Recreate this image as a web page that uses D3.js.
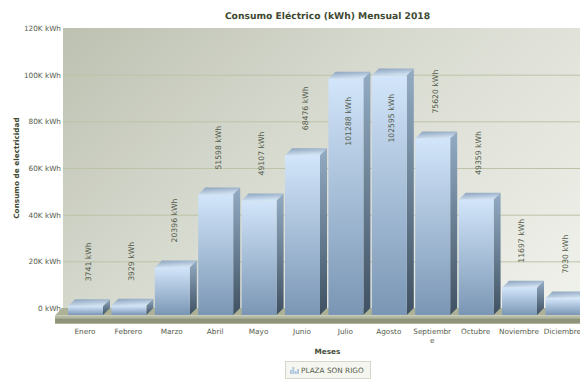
<!DOCTYPE html>
<html>
<head>
<meta charset="utf-8">
<script src="https://cdn.jsdelivr.net/npm/d3@7"></script>
<style>
html,body{margin:0;padding:0;background:#fff;overflow:hidden}
svg{display:block;text-rendering:geometricPrecision}
text{font-family:"DejaVu Sans",sans-serif}
</style>
</head>
<body>
<svg id="chart" width="580" height="379"></svg>
<script>
// Monthly electricity use for 2018
const meses = ["Enero","Febrero","Marzo","Abril","Mayo","Junio","Julio","Agosto","Septiembre","Octubre","Noviembre","Diciembre"];
const consumo = [3741,3929,20396,51598,49107,68476,101288,102595,75620,49359,11697,7030];
const yTicks = [0,20000,40000,60000,80000,100000,120000];
const titulo = "Consumo Eléctrico (kWh) Mensual 2018";
const tituloY = "Consumo de electricidad";
const tituloX = "Meses";
const serie = "PLAZA SON RIGO";

const W = 580, H = 379;
const plot = {left:63, top:28, right:580, zero:308};
const depth = 7;
const labelGap = 18;
const labelLen = 49;
const textColor = "#555c4c";
const titleColor = "#3f4a33";
const fontSize = 7.3;

const svg = d3.select("#chart");
const defs = svg.append("defs");

function linear(id, x1, y1, x2, y2, stops, userSpace){
  const g = defs.append("linearGradient").attr("id", id)
    .attr("x1",x1).attr("y1",y1).attr("x2",x2).attr("y2",y2);
  if (userSpace) g.attr("gradientUnits","userSpaceOnUse");
  stops.forEach(s => g.append("stop").attr("offset",s[0]).attr("stop-color",s[1]));
}
linear("bgPlot",plot.left,plot.top,439,443,[[0,"#bdc1b1"],[0.4,"#d6d9ce"],[0.65,"#e2e4db"],[1,"#f0f2ec"]],true);
linear("front",0,0,0,1,[[0,"#d2e5fa"],[1,"#7a96b4"]]);
linear("side",0,0,0,1,[[0,"#93acc4"],[1,"#3f5162"]]);
linear("cap",0,0,0.35,1,[[0,"#8aa2bb"],[1,"#cfe0f2"]]);
linear("floorFront",0,0,0,1,[[0,"#bcc1ab"],[0.3,"#b0b59f"],[0.45,"#8d9479"],[0.85,"#8f967b"],[1,"#c6c9b8"]]);

const x = d3.scaleBand().domain(meses).range([68, 580.4]).paddingInner(0.1935).paddingOuter(0);
const y = d3.scaleLinear().domain([0,120000]).range([plot.zero, plot.top]);
const base = y(0) + depth;

// Plot background
svg.append("rect")
  .attr("x",plot.left).attr("y",plot.top)
  .attr("width",plot.right-plot.left).attr("height",base-plot.top)
  .attr("fill","url(#bgPlot)");

// Value axis with full-width grid lines
const axis = svg.append("g").attr("transform",`translate(${plot.left},0)`)
  .call(d3.axisLeft(y).tickValues(yTicks)
    .tickFormat(d => d === 0 ? "0 kWh" : (d/1000)+"K kWh")
    .tickSize(-(plot.right-plot.left)).tickPadding(2));
axis.select(".domain").remove();
axis.selectAll("line").attr("stroke","#bcc3a6").attr("stroke-width",1);
axis.selectAll("text").attr("fill",textColor).attr("font-size",fontSize).attr("font-family","DejaVu Sans");
axis.selectAll(".tick").filter(d => d === 0).select("line").attr("x1",-2).attr("x2",0);
axis.selectAll(".tick").filter(d => d === 120000).select("line").attr("stroke","none");

// Floor slab under the bars
const floorL = 55, floorBack = 308, floorEdge = 315.5, floorBottom = 324;
svg.append("path")
  .attr("d",`M${floorL},${floorEdge}L${plot.left-1},${floorBack}L${W},${floorBack}L${W},${floorEdge}Z`)
  .attr("fill","#adb297");
svg.append("rect").attr("x",floorL).attr("y",floorEdge)
  .attr("width",W-floorL).attr("height",floorBottom-floorEdge)
  .attr("fill","url(#floorFront)");

// Bars as three faces: front, side, top
const bars = svg.append("g").selectAll("g").data(meses).join("g");
bars.append("path").attr("fill","url(#cap)")
  .attr("d",(m,i)=>{
    const l=x(m), r=l+x.bandwidth(), t=y(consumo[i])+depth;
    return `M${l},${t}L${l+depth},${t-depth}L${r+depth},${t-depth}L${r},${t}Z`;
  });
bars.append("path").attr("fill","url(#side)")
  .attr("d",(m,i)=>{
    const r=x(m)+x.bandwidth(), t=y(consumo[i])+depth;
    return `M${r},${t}L${r+depth},${t-depth}L${r+depth},${base-depth}L${r},${base}Z`;
  });
bars.append("rect").attr("fill","url(#front)")
  .attr("x",m=>x(m)).attr("width",x.bandwidth())
  .attr("y",(m,i)=>y(consumo[i])+depth)
  .attr("height",(m,i)=>base-y(consumo[i])-depth);

// Value labels read upward; the tallest bars carry theirs inside the front face
bars.append("text")
  .attr("fill",textColor).attr("font-size",fontSize+0.4)
  .attr("text-anchor","start")
  .attr("transform",(m,i)=>{
    const t=y(consumo[i]);
    const above=t-labelGap;
    const bottom = above-labelLen < plot.top+8 ? t+depth+67 : above;
    return `translate(${x(m)+x.bandwidth()/2+5},${bottom}) rotate(-90)`;
  })
  .text((m,i)=>consumo[i]+" kWh");

// Category labels, wrapped when wider than a band
const catY = 333.5;
const maxChars = 9;
bars.each(function(m){
  const cx = x(m)+x.bandwidth()/2-0.5;
  const t = d3.select(this).append("text")
    .attr("fill",textColor).attr("font-size",fontSize).attr("text-anchor","middle")
    .attr("x",cx).attr("y",catY);
  const wraps = m.startsWith("Sept");
  if (wraps) {
    t.append("tspan").attr("x",cx).text(m.slice(0,maxChars));
    t.append("tspan").attr("x",cx).attr("dy",9).text(m.slice(maxChars));
  } else t.text(m);
});

// Titles
svg.append("text").attr("x",327.5).attr("y",18.5).attr("text-anchor","middle")
  .attr("font-size",9.2).attr("font-weight","bold").attr("fill",titleColor).text(titulo);
svg.append("text").attr("text-anchor","middle").attr("font-size",7.3).attr("font-weight","bold")
  .attr("fill",titleColor).attr("transform","translate(19,168) rotate(-90)").text(tituloY);
svg.append("text").attr("x",327.5).attr("y",354).attr("text-anchor","middle")
  .attr("font-size",7.3).attr("font-weight","bold").attr("fill",titleColor).text(tituloX);

// Legend box with a small bar glyph
const legend = svg.append("g").attr("transform","translate(285,361)");
legend.append("rect").attr("x",0.5).attr("y",0.5).attr("width",85).attr("height",17)
  .attr("fill","#f5f6f0").attr("stroke","#d5d7cc");
[4,7,3,5].forEach((h,i)=>legend.append("rect")
  .attr("x",5+i*2.4).attr("y",13-h).attr("width",1.8).attr("height",h).attr("fill","#a9c4dd"));
legend.append("text").attr("x",16).attr("y",12).attr("font-size",7.3).attr("fill",textColor).text(serie);
</script>
</body>
</html>
